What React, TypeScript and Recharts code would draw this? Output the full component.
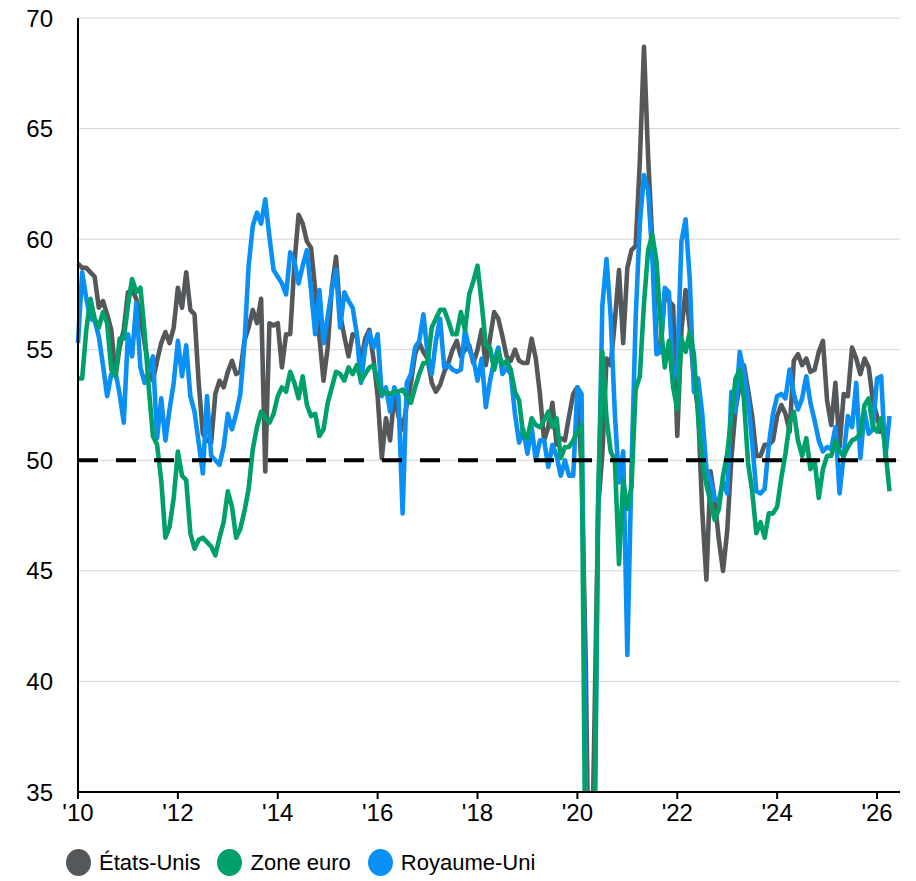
import React from 'react';
import { LineChart, Line, XAxis, YAxis, CartesianGrid, ReferenceLine } from 'recharts';

// Monthly composite PMI, January 2010 onwards
const startYear = 2010;

const etatsUnis: (number | null)[] = [
  58.9, 58.7, 58.7, 58.5, 58.3, 56.9, 57.2, 56.6, 55.9, 53.8, 55.1, 55.9, // 2010
  57.6, 57.7, 57.3, 56.5, 55.3, 54.2, 53.6, 54.5, 55.3, 55.8, 55.3, 56.0, // 2011
  57.8, 56.9, 58.5, 56.8, 56.6, 53.5, 51.2, 50.9, 50.8, 53.0, 53.6, 53.3, // 2012
  54.0, 54.5, 53.9, 54.0, 55.4, 56.0, 56.8, 56.2, 57.3, 49.5, 56.2, 56.1, // 2013
  56.2, 54.2, 55.7, 55.7, 58.9, 61.1, 60.7, 59.9, 59.6, 57.7, 55.6, 53.6, // 2014
  55.1, 57.8, 59.2, 56.6, 55.6, 54.7, 55.7, 55.6, 54.4, 55.5, 55.9, 54.6, // 2015
  52.9, 50.1, 51.9, 50.9, 53.0, 52.0, 51.4, 52.5, 53.5, 54.8, 55.3, 54.9, // 2016
  54.6, 53.5, 53.1, 53.4, 54.0, 54.4, 55.0, 55.4, 54.7, 55.0, 55.2, 54.4, // 2017
  55.0, 55.9, 54.3, 55.5, 56.7, 56.4, 55.6, 54.7, 54.5, 55.0, 54.5, 54.4, // 2018
  54.4, 55.5, 54.6, 53.0, 50.9, 51.5, 52.6, 50.7, 51.0, 50.9, 52.0, 53.0, // 2019
  53.3, 49.6, 40.9, 27.0, 37.0, 47.9, 50.3, 54.6, 54.3, 56.3, 58.6, 55.3, // 2020
  58.7, 59.5, 59.7, 63.5, 68.7, 63.7, 59.9, 55.4, 55.0, 57.6, 57.2, 57.0, // 2021
  51.1, 55.9, 57.7, 56.0, 53.6, 52.3, 47.7, 44.6, 49.5, 48.2, 46.4, 45.0, // 2022
  46.8, 50.1, 52.3, 53.4, 54.3, 53.2, 52.0, 50.2, 50.2, 50.7, 50.7, 50.9, // 2023
  52.0, 52.5, 52.1, 51.3, 54.5, 54.8, 54.3, 54.6, 54.0, 54.1, 54.9, 55.4, // 2024
  52.7, 51.6, 53.5, 50.6, 53.0, 52.9, 55.1, 54.6, 53.9, 54.6, 54.2, 52.7, // 2025
  52.0, 51.2, null, null, // 2026
];

const zoneEuro: (number | null)[] = [
  53.7, 53.7, 55.9, 57.3, 56.4, 56.0, 56.7, 56.2, 54.1, 53.8, 55.5, 55.5, // 2010
  57.0, 58.2, 57.6, 57.8, 55.8, 53.3, 51.1, 50.7, 49.1, 46.5, 47.0, 48.3, // 2011
  50.4, 49.3, 49.1, 46.7, 46.0, 46.4, 46.5, 46.3, 46.1, 45.7, 46.5, 47.2, // 2012
  48.6, 47.9, 46.5, 46.9, 47.7, 48.7, 50.5, 51.5, 52.2, 51.9, 51.7, 52.1, // 2013
  52.9, 53.3, 53.1, 54.0, 53.5, 52.8, 53.8, 52.5, 52.0, 52.1, 51.1, 51.4, // 2014
  52.6, 53.3, 54.0, 53.9, 53.6, 54.2, 53.9, 54.3, 53.6, 53.9, 54.2, 54.3, // 2015
  53.6, 53.0, 53.1, 53.0, 53.1, 53.1, 53.2, 52.9, 52.6, 53.3, 53.9, 54.4, // 2016
  54.4, 56.0, 56.4, 56.8, 56.8, 56.3, 55.7, 55.7, 56.7, 55.9, 57.5, 58.1, // 2017
  58.8, 57.1, 55.2, 55.1, 54.1, 54.9, 54.3, 54.5, 54.1, 53.1, 52.7, 51.1, // 2018
  51.0, 51.9, 51.6, 51.5, 51.8, 52.2, 51.5, 51.9, 50.1, 50.6, 50.6, 50.9, // 2019
  51.3, 51.6, 29.7, 13.6, 31.9, 48.5, 54.9, 51.9, 50.4, 50.0, 45.3, 49.1, // 2020
  47.8, 48.8, 53.2, 53.8, 57.1, 59.5, 60.2, 59.0, 56.2, 54.2, 55.4, 53.3, // 2021
  52.3, 55.5, 54.9, 55.8, 54.8, 52.0, 49.9, 48.9, 48.1, 47.3, 47.8, 49.3, // 2022
  50.3, 52.0, 53.7, 54.1, 52.8, 49.9, 48.6, 46.7, 47.2, 46.5, 47.6, 47.6, // 2023
  47.9, 49.2, 50.3, 51.7, 52.2, 50.9, 50.2, 51.0, 49.6, 50.0, 48.3, 49.6, // 2024
  50.2, 50.2, 50.9, 50.4, 50.2, 50.6, 50.9, 51.0, 51.2, 52.5, 52.8, 51.5, // 2025
  51.3, 51.9, 50.5, 48.6, // 2026
];

const royaumeUni: (number | null)[] = [
  55.3, 58.5, 57.3, 56.4, 56.3, 55.6, 54.3, 52.9, 53.9, 54.0, 53.0, 51.7, // 2010
  55.7, 54.7, 57.1, 54.2, 53.5, 54.0, 54.7, 51.0, 52.8, 50.9, 52.3, 53.5, // 2011
  55.4, 53.8, 55.2, 52.9, 52.2, 50.8, 49.4, 52.9, 50.2, 50.0, 49.8, 50.6, // 2012
  52.1, 51.4, 52.1, 53.0, 55.3, 58.8, 60.6, 61.2, 60.7, 61.8, 60.1, 58.6, // 2013
  58.3, 58.0, 57.5, 59.4, 59.0, 58.0, 58.8, 59.5, 57.7, 55.7, 57.7, 55.3, // 2014
  56.5, 57.7, 58.6, 56.0, 57.6, 57.2, 56.9, 55.7, 53.5, 55.1, 55.8, 55.1, // 2015
  55.7, 52.9, 53.3, 52.2, 53.3, 52.9, 47.6, 53.5, 53.9, 55.1, 55.4, 56.6, // 2016
  54.8, 53.9, 55.4, 56.4, 54.2, 54.3, 54.1, 54.0, 54.1, 55.9, 55.0, 54.6, // 2017
  53.6, 54.6, 52.4, 53.6, 54.5, 55.1, 53.9, 54.2, 53.9, 52.1, 50.8, 51.4, // 2018
  50.3, 51.5, 50.0, 50.9, 50.9, 49.7, 50.7, 50.2, 49.3, 50.0, 49.3, 49.3, // 2019
  53.3, 53.0, 36.0, 13.8, 30.0, 47.7, 57.0, 59.1, 56.5, 52.1, 49.0, 50.4, // 2020
  41.2, 49.6, 56.4, 60.7, 62.9, 62.2, 59.2, 54.8, 54.9, 57.8, 57.6, 53.6, // 2021
  54.2, 59.9, 60.9, 58.2, 53.1, 53.7, 52.1, 49.6, 49.1, 48.2, 48.2, 49.0, // 2022
  48.5, 53.1, 52.2, 54.9, 54.0, 52.8, 50.8, 48.6, 48.5, 48.7, 50.7, 52.1, // 2023
  52.9, 53.0, 52.8, 54.1, 53.0, 52.3, 52.8, 53.8, 52.6, 51.8, 50.9, 50.4, // 2024
  50.6, 50.5, 51.5, 48.5, 50.3, 52.0, 51.5, 53.5, 50.1, 52.2, 51.2, 51.4, // 2025
  53.7, 53.8, 50.1, 52.0, // 2026
];

const xTicks = [2010, 2012, 2014, 2016, 2018, 2020, 2022, 2024, 2026];
const yTicks = [35, 40, 45, 50, 55, 60, 65, 70];

const seriesNames = { us: 'États-Unis', ez: 'Zone euro', uk: 'Royaume-Uni' };
const colors = { us: '#55585b', ez: '#00a06b', uk: '#0a90f5' };

const data = zoneEuro.map((_, i) => ({
  t: startYear + i / 12,
  us: etatsUnis[i] ?? null,
  ez: zoneEuro[i] ?? null,
  uk: royaumeUni[i] ?? null,
}));

const FONT = '"Liberation Sans", Arial, Helvetica, sans-serif';

const legendItems: { key: 'us' | 'ez' | 'uk' }[] = [{ key: 'us' }, { key: 'ez' }, { key: 'uk' }];

export default function App() {
  return (
    <div style={{ position: 'absolute', left: 0, top: 0, width: 916, height: 881, background: '#fff', fontFamily: FONT }}>
      <LineChart
        width={916}
        height={881}
        data={data}
        margin={{ top: 18, right: 16, bottom: 39, left: 0 }}
      >
        <CartesianGrid vertical={false} stroke="#d4d4d4" strokeWidth={1} />
        <XAxis
          dataKey="t"
          type="number"
          domain={[2010, 2026.46]}
          ticks={xTicks}
          tickFormatter={(v: number) => "'" + String(v).slice(2)}
          height={50}
          axisLine={{ stroke: '#000', strokeWidth: 2 }}
          tickLine={{ stroke: '#000', strokeWidth: 2 }}
          tickSize={7}
          tickMargin={5}
          tick={{ fontSize: 24, fill: '#000', fontFamily: FONT }}
          interval={0}
        />
        <YAxis
          type="number"
          domain={[35, 70]}
          ticks={yTicks}
          allowDataOverflow
          width={78}
          axisLine={{ stroke: '#000', strokeWidth: 2 }}
          tickLine={false}
          tickSize={6}
          tickMargin={19}
          tick={{ fontSize: 24, fill: '#000', fontFamily: FONT }}
          interval={0}
        />
        <Line
          dataKey="us"
          name={seriesNames.us}
          type="linear"
          stroke={colors.us}
          strokeWidth={4.6}
          dot={false}
          strokeLinejoin="round"
          isAnimationActive={false}
        />
        <Line
          dataKey="uk"
          name={seriesNames.uk}
          type="linear"
          stroke={colors.uk}
          strokeWidth={4.6}
          dot={false}
          strokeLinejoin="round"
          isAnimationActive={false}
        />
        <Line
          dataKey="ez"
          name={seriesNames.ez}
          type="linear"
          stroke={colors.ez}
          strokeWidth={4.6}
          dot={false}
          strokeLinejoin="round"
          isAnimationActive={false}
        />
        <ReferenceLine y={50} stroke="#000" strokeWidth={4} strokeDasharray="20 18" />
      </LineChart>
      <div
        style={{
          position: 'absolute',
          left: 66,
          top: 849,
          display: 'flex',
          alignItems: 'center',
          fontSize: 22,
          color: '#000',
          fontFamily: FONT,
        }}
      >
        {legendItems.map((it) => (
          <div key={it.key} style={{ display: 'flex', alignItems: 'center', marginRight: 17 }}>
            <span
              style={{
                display: 'inline-block',
                width: 25,
                height: 27,
                borderRadius: '50%',
                background: colors[it.key],
                marginRight: 8,
              }}
            />
            <span>{seriesNames[it.key]}</span>
          </div>
        ))}
      </div>
    </div>
  );
}
